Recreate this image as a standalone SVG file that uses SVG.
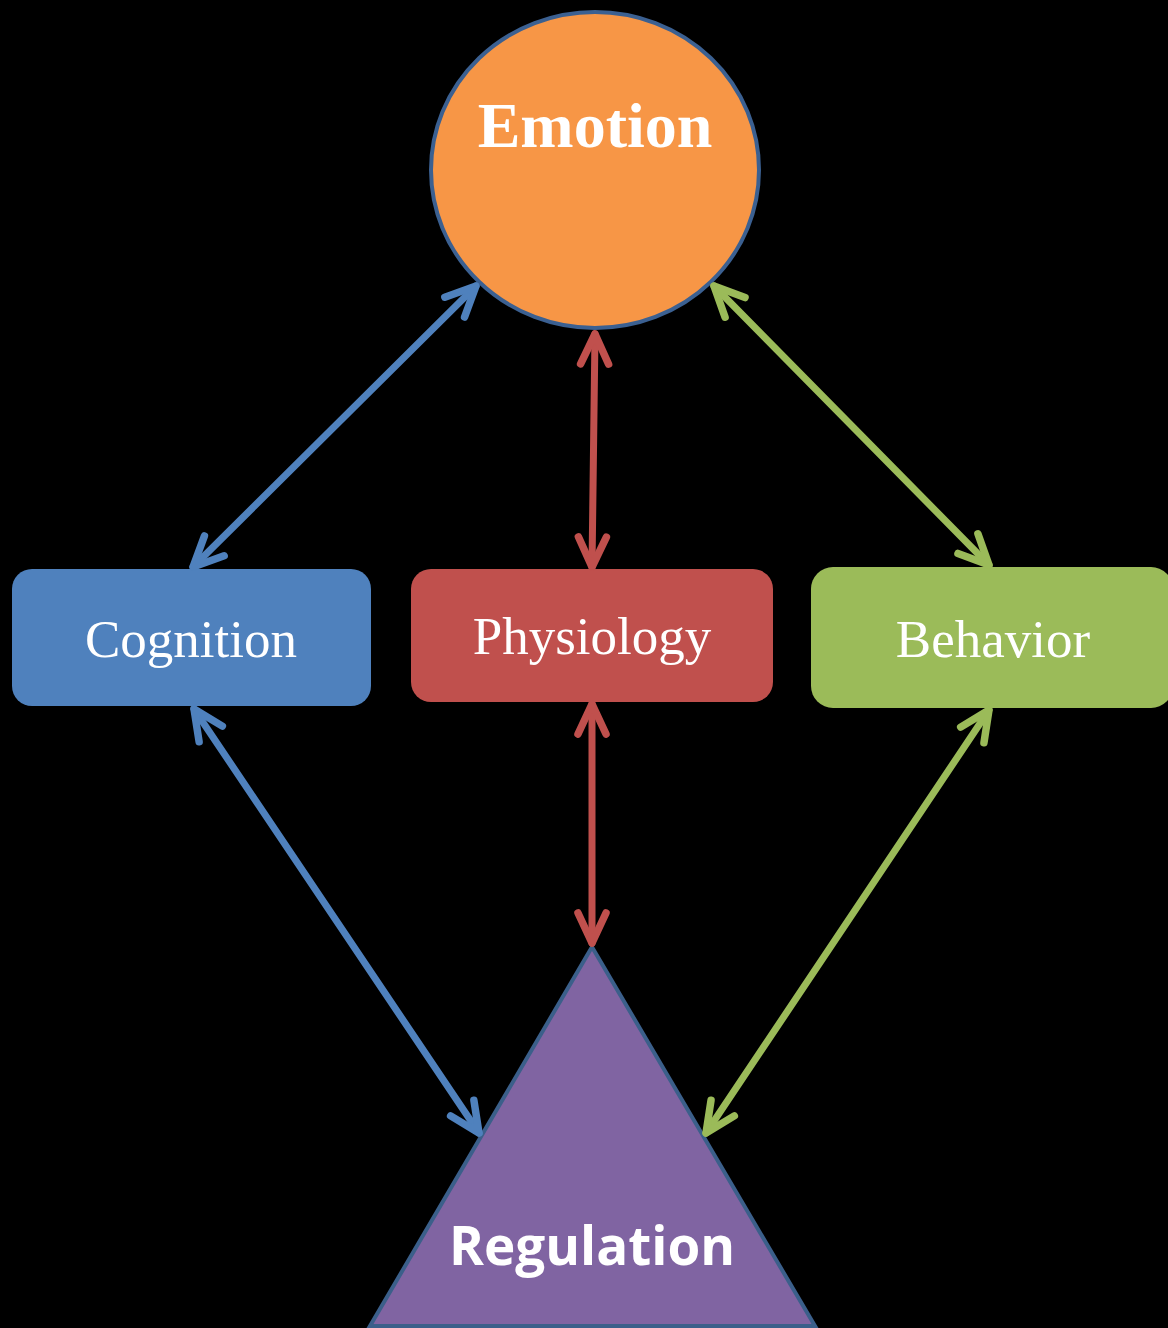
<svg xmlns="http://www.w3.org/2000/svg" width="1168" height="1328" viewBox="0 0 1168 1328">
<style>
.serif{font-family:"Liberation Serif","Times New Roman",serif;fill:#fff;text-anchor:middle}
.sans{font-family:"Open Sans","Liberation Sans",sans-serif;fill:#fff;text-anchor:middle;font-weight:bold}
.conn{fill:none;stroke-width:7;stroke-linecap:round}
.blue{stroke:#4f81bd}
.red{stroke:#c0504d}
.green{stroke:#9bbb59}
.head{fill:none;stroke-width:7.5;stroke-linecap:round;stroke-linejoin:round}
</style>
<defs>
<marker id="ab" markerUnits="userSpaceOnUse" markerWidth="44" markerHeight="44" viewBox="-38 -22 44 44" refX="0" refY="0" orient="auto-start-reverse"><path class="head" d="M-30,-14 L0,0 L-30,14" stroke="#4f81bd"/></marker>
<marker id="ar" markerUnits="userSpaceOnUse" markerWidth="44" markerHeight="44" viewBox="-38 -22 44 44" refX="0" refY="0" orient="auto-start-reverse"><path class="head" d="M-30,-14 L0,0 L-30,14" stroke="#c0504d"/></marker>
<marker id="ag" markerUnits="userSpaceOnUse" markerWidth="44" markerHeight="44" viewBox="-38 -22 44 44" refX="0" refY="0" orient="auto-start-reverse"><path class="head" d="M-30,-14 L0,0 L-30,14" stroke="#9bbb59"/></marker>
</defs>
<rect width="1168" height="1328" fill="#000"/>
<g id="emotion">
<ellipse cx="595" cy="170" rx="164" ry="158" fill="#f79646" stroke="#3b6091" stroke-width="4"/>
<text class="serif" x="595" y="147" font-size="64" font-weight="bold">Emotion</text>
</g>
<g id="cognition">
<rect x="12" y="569" width="359" height="137" rx="20" fill="#4f81bd"/>
<text class="serif" x="191" y="657" font-size="53">Cognition</text>
</g>
<g id="physiology">
<rect x="411" y="569" width="362" height="133" rx="20" fill="#c0504d"/>
<text class="serif" x="592" y="654" font-size="53">Physiology</text>
</g>
<g id="behavior">
<rect x="811" y="567" width="362" height="141" rx="22" fill="#9bbb59"/>
<text class="serif" x="993" y="657" font-size="53">Behavior</text>
</g>
<g id="regulation">
<polygon points="592,947 815,1326 370,1326" fill="#8064a2" stroke="#3b5f8a" stroke-width="4" stroke-linejoin="miter"/>
<text class="sans" x="592" y="1265" font-size="53">Regulation</text>
</g>
<g id="connectors">
<line class="conn blue" x1="193" y1="567" x2="476" y2="286" marker-start="url(#ab)" marker-end="url(#ab)"/>
<line class="conn red" x1="592" y1="567" x2="595" y2="334" marker-start="url(#ar)" marker-end="url(#ar)"/>
<line class="conn green" x1="989" y1="565" x2="714" y2="286" marker-start="url(#ag)" marker-end="url(#ag)"/>
<line class="conn blue" x1="194" y1="709" x2="479" y2="1133" marker-start="url(#ab)" marker-end="url(#ab)"/>
<line class="conn red" x1="592" y1="704" x2="592" y2="943" marker-start="url(#ar)" marker-end="url(#ar)"/>
<line class="conn green" x1="989" y1="710" x2="706" y2="1133" marker-start="url(#ag)" marker-end="url(#ag)"/>
</g>
</svg>
